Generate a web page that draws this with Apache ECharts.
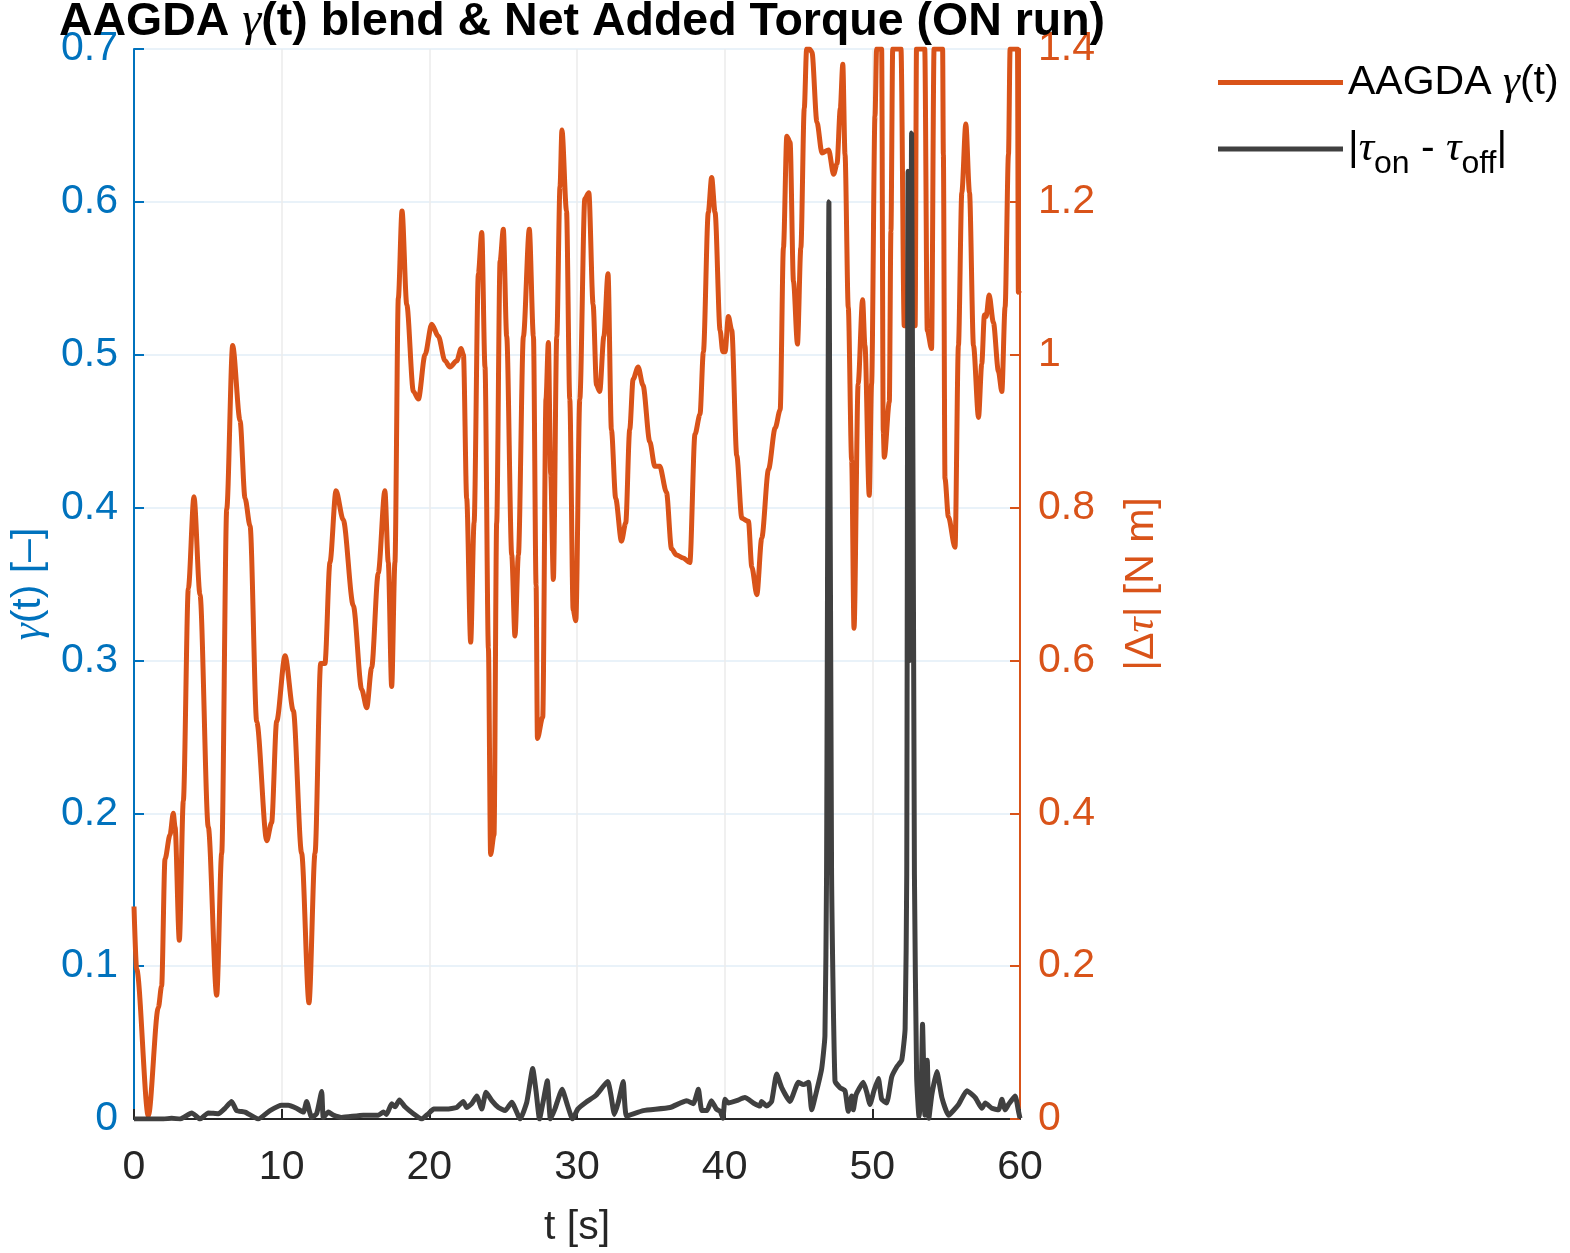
<!DOCTYPE html>
<html>
<head>
<meta charset="utf-8">
<script src="https://cdn.jsdelivr.net/npm/echarts@6/dist/echarts.min.js"></script>
<style>
html,body{margin:0;padding:0;background:#fff;}
#chart{width:1570px;height:1253px;}
</style>
</head>
<body>
<div id="chart"></div>
<script>
// ---- data ----
const xTicks = [0, 10, 20, 30, 40, 50, 60];
const gammaTicks = ['0', '0.1', '0.2', '0.3', '0.4', '0.5', '0.6', '0.7'];
const torqueTicks = ['0', '0.2', '0.4', '0.6', '0.8', '1', '1.2', '1.4'];

// AAGDA gamma(t) [-]
const tGamma = [0, 0.18, 0.97, 1.65, 1.87, 2.1, 2.44, 2.66, 2.78, 3.07, 3.34, 3.68, 4.06, 4.47, 5.03, 5.6, 5.94, 6.28, 6.68, 7.18,
  7.52, 7.86, 8.31, 8.99, 9.32, 9.66, 10.23, 10.79, 11.35, 11.85, 12.26, 12.64, 12.93, 13.27, 13.68, 14.17, 14.85, 15.42, 15.76, 16.09,
  16.54, 16.99, 17.22, 17.45, 17.67, 17.9, 18.15, 18.47, 18.92, 19.26, 19.71, 20.16, 20.61, 21.06, 21.4, 21.86, 22.15, 22.31, 22.53, 22.8,
  23.03, 23.32, 23.55, 23.77, 24.0, 24.15, 24.38, 24.56, 24.79, 25.01, 25.24, 25.58, 25.8, 26.03, 26.37, 26.77, 27.05, 27.23, 27.32, 27.68,
  27.9, 28.06, 28.22, 28.4, 28.63, 28.85, 28.98, 29.29, 29.51, 29.74, 29.92, 30.19, 30.53, 30.8, 31.09, 31.32, 31.54, 31.82, 32.1, 32.33,
  32.62, 33.01, 33.3, 33.57, 33.8, 34.14, 34.47, 34.93, 35.27, 35.6, 36.06, 36.4, 36.74, 37.19, 37.64, 37.99, 38.33, 38.56, 38.89, 39.12,
  39.35, 39.69, 39.87, 40.03, 40.25, 40.48, 40.82, 41.16, 41.61, 41.84, 42.18, 42.51, 42.97, 43.42, 43.76, 43.98, 44.21, 44.43, 44.66, 44.93,
  45.16, 45.39, 45.55, 45.75, 45.91, 46.25, 46.59, 47.04, 47.38, 47.61, 47.83, 48.0, 48.15, 48.37, 48.6, 48.76, 49.04, 49.34, 49.5, 49.79,
  49.95, 50.18, 50.29, 50.63, 50.74, 50.81, 51.15, 51.26, 51.38, 51.94, 52.16, 52.9, 52.99, 53.55, 53.72, 54.01, 54.18, 54.76, 54.81, 54.92,
  55.15, 55.6, 55.83, 56.06, 56.33, 56.58, 56.85, 57.19, 57.41, 57.59, 57.71, 57.91, 58.2, 58.54, 58.77, 58.99, 59.22, 59.33, 59.83, 59.89, 60];
const gamma = [0.139, 0.098, 0.002, 0.073, 0.087, 0.170, 0.186, 0.200, 0.191, 0.117, 0.208, 0.347, 0.407, 0.343, 0.191, 0.081, 0.174, 0.399, 0.506, 0.457,
  0.406, 0.388, 0.260, 0.182, 0.194, 0.260, 0.303, 0.267, 0.174, 0.076, 0.174, 0.298, 0.298, 0.364, 0.411, 0.392, 0.336, 0.281, 0.269, 0.295,
  0.357, 0.411, 0.364, 0.283, 0.364, 0.537, 0.594, 0.533, 0.476, 0.471, 0.500, 0.520, 0.512, 0.496, 0.492, 0.496, 0.504, 0.500, 0.406, 0.312,
  0.390, 0.553, 0.580, 0.492, 0.308, 0.173, 0.186, 0.390, 0.561, 0.582, 0.512, 0.369, 0.316, 0.369, 0.512, 0.582, 0.512, 0.349, 0.249, 0.263,
  0.471, 0.508, 0.422, 0.353, 0.512, 0.610, 0.647, 0.594, 0.471, 0.333, 0.326, 0.471, 0.602, 0.606, 0.533, 0.480, 0.476, 0.512, 0.553, 0.451,
  0.406, 0.378, 0.390, 0.451, 0.484, 0.492, 0.480, 0.443, 0.427, 0.427, 0.410, 0.373, 0.369, 0.367, 0.364, 0.448, 0.461, 0.502, 0.593, 0.616,
  0.593, 0.516, 0.502, 0.502, 0.525, 0.516, 0.434, 0.393, 0.391, 0.361, 0.343, 0.380, 0.425, 0.452, 0.464, 0.570, 0.643, 0.639, 0.548, 0.507,
  0.570, 0.661, 0.700, 0.700, 0.698, 0.652, 0.632, 0.634, 0.618, 0.625, 0.661, 0.690, 0.631, 0.531, 0.431, 0.321, 0.481, 0.536, 0.506, 0.408,
  0.481, 0.656, 0.700, 0.700, 0.450, 0.433, 0.469, 0.581, 0.700, 0.700, 0.519, 0.519, 0.700, 0.700, 0.516, 0.504, 0.700, 0.700, 0.631, 0.419,
  0.394, 0.374, 0.506, 0.606, 0.651, 0.606, 0.506, 0.459, 0.494, 0.526, 0.525, 0.539, 0.521, 0.489, 0.476, 0.531, 0.631, 0.700, 0.700, 0.541, 0.540];

// |tau_on - tau_off| [N m]
const tTorque = [0, 2.0, 2.55, 3.12, 3.91, 4.47, 5.03, 5.71, 6.16, 6.61, 6.95, 7.52, 8.42, 9.21, 10.0, 10.45, 11.0, 11.47, 11.69, 12.03,
  12.37, 12.71, 12.82, 13.16, 13.5, 14.06, 15.53, 16.55, 16.89, 17.1, 17.45, 17.68, 17.97, 18.35, 18.92, 19.49, 19.94, 20.3, 21.17, 21.85,
  22.3, 22.53, 22.87, 23.21, 23.55, 23.84, 24.23, 24.68, 25.13, 25.58, 26.15, 26.6, 27.0, 27.23, 27.46, 27.7, 27.99, 28.2, 28.5, 28.99,
  29.37, 29.7, 30.05, 30.61, 31.29, 32.08, 32.3, 32.53, 32.8, 33.13, 33.36, 34.49, 36.3, 37.43, 37.88, 38.22, 38.45, 38.8, 39.1, 39.44,
  39.7, 39.88, 40.02, 40.25, 40.81, 41.37, 41.94, 42.39, 42.5, 42.84, 43.18, 43.52, 43.86, 44.42, 44.99, 45.33, 45.67, 45.89, 46.23, 46.57,
  46.79, 46.9, 47.06, 47.24, 47.47, 47.81, 48.15, 48.37, 48.6, 48.71, 48.9, 49.39, 49.62, 49.84, 50.11, 50.41, 50.63, 50.97, 51.31, 51.65,
  51.99, 52.22, 52.33, 52.42, 52.52, 52.66, 52.85, 53.0, 53.16, 53.3, 53.4, 53.56, 53.72, 53.83, 54.03, 54.37, 54.71, 55.16, 55.84, 56.4,
  56.97, 57.42, 57.65, 58.1, 58.55, 58.77, 59.0, 59.22, 59.67, 59.9, 60];
const dTorque = [0, 0, 0.001, 0, 0.008, 0, 0.008, 0.007, 0.014, 0.023, 0.011, 0.009, 0, 0.011, 0.018, 0.018, 0.014, 0.009, 0.023, 0.002,
  0.007, 0.036, 0.002, 0.009, 0.005, 0.002, 0.005, 0.005, 0.009, 0.006, 0.020, 0.016, 0.025, 0.016, 0.007, 0, 0.007, 0.013, 0.013, 0.015,
  0.023, 0.015, 0.020, 0.030, 0.013, 0.035, 0.024, 0.015, 0.011, 0.022, 0, 0.022, 0.066, 0.036, 0, 0.022, 0.050, 0, 0.013, 0.039,
  0.017, 0, 0.013, 0.022, 0.031, 0.049, 0.031, 0.006, 0.022, 0.049, 0.004, 0.011, 0.015, 0.024, 0.020, 0.039, 0.011, 0.011, 0.024, 0.013,
  0.010, 0.001, 0.026, 0.021, 0.024, 0.028, 0.021, 0.017, 0.023, 0.017, 0.023, 0.059, 0.041, 0.023, 0.048, 0.045, 0.048, 0.012, 0.037, 0.066,
  0.109, 0.32, 1.20, 0.32, 0.050, 0.041, 0.037, 0.010, 0.030, 0.012, 0.032, 0.048, 0.035, 0.019, 0.037, 0.053, 0.026, 0.021, 0.055, 0.068,
  0.077, 0.118, 0.32, 1.24, 0.60, 1.29, 0.32, 0.055, 0.003, 0.030, 0.124, 0.005, 0.077, 0.001, 0.032, 0.062, 0.028, 0.005, 0.019, 0.037,
  0.028, 0.014, 0.021, 0.014, 0.012, 0.026, 0.012, 0.019, 0.030, 0.010, 0.001];

const seriesNames = ['AAGDA γ(t)', '|τon - τoff|'];

// ---- chart ----
const BLUE = '#0072BD', ORANGE = '#D95319', DARK = '#404040', AX = '#262626';
const SANS = '"Liberation Sans", Arial, Helvetica, sans-serif';
const SERIF = '"Liberation Serif", "DejaVu Serif", serif';

const chart = echarts.init(document.getElementById('chart'), null, {renderer: 'canvas'});

const option = {
  backgroundColor: '#ffffff',
  animation: false,
  title: {
    text: 'AAGDA {g|γ}(t) blend & Net Added Torque (ON run)',
    left: 577,
    top: -7,
    textAlign: 'center',
    textStyle: {
      fontFamily: SANS, fontSize: 46.5, fontWeight: 'bold', color: '#000',
      rich: { g: { fontFamily: SERIF, fontStyle: 'italic', fontWeight: 'normal', fontSize: 48, color: '#000' } }
    }
  },
  legend: {
    orient: 'vertical',
    left: 1213,
    top: 56,
    icon: 'rect',
    itemWidth: 125,
    itemHeight: 5,
    itemGap: 14,
    data: seriesNames,
    formatter: function (name) {
      if (name === seriesNames[0]) return '{n|AAGDA }{i|γ}{n|(t)}';
      return '{n||}{i|τ}{s|on}{n| - }{i|τ}{s|off}{n||}';
    },
    textStyle: {
      color: '#000', fontFamily: SANS, fontSize: 41, padding: [0, 0, 0, 0],
      rich: {
        n: { fontFamily: SANS, fontSize: 41, color: '#000', lineHeight: 42 },
        i: { fontFamily: SERIF, fontStyle: 'italic', fontSize: 43, color: '#000', lineHeight: 42 },
        s: { fontFamily: SANS, fontSize: 32, color: '#000', padding: [30, 0, 0, 0], lineHeight: 32 }
      }
    }
  },
  grid: {
    left: 134, top: 49, width: 886, height: 1070,
    containLabel: false,
    outerBoundsMode: 'none'
  },
  xAxis: {
    type: 'value', min: 0, max: 60, interval: 10,
    name: 't [s]', nameLocation: 'middle', nameGap: 88,
    nameTextStyle: { fontFamily: SANS, fontSize: 41, color: AX },
    axisLine: { show: true, onZero: false, lineStyle: { color: AX, width: 2 } },
    axisTick: { show: true, inside: true, length: 10, lineStyle: { color: AX, width: 2 } },
    axisLabel: { fontFamily: SANS, fontSize: 41, color: AX, margin: 28,
      formatter: function (v) { return xTicks.indexOf(v) >= 0 ? String(v) : ''; } },
    splitLine: { show: true, lineStyle: { color: '#ebebeb', width: 1.5 } }
  },
  yAxis: [
    {
      type: 'value', position: 'left', min: 0, max: 0.7, interval: 0.1,
      name: '{g|γ}(t) [–]', nameLocation: 'middle', nameGap: 80, nameRotate: 90,
      nameTextStyle: { fontFamily: SANS, fontSize: 41, color: BLUE,
        rich: { g: { fontFamily: SERIF, fontStyle: 'italic', fontSize: 43, color: BLUE } } },
      axisLine: { show: true, onZero: false, lineStyle: { color: BLUE, width: 2 } },
      axisTick: { show: true, inside: true, length: 10, lineStyle: { color: BLUE, width: 2 } },
      axisLabel: { fontFamily: SANS, fontSize: 41, color: BLUE, margin: 16,
        formatter: function (v) { return gammaTicks[Math.round(v * 10)]; } },
      splitLine: { show: true, lineStyle: { color: '#e2eef7', width: 1.5 } }
    },
    {
      type: 'value', position: 'right', min: 0, max: 1.4, interval: 0.2,
      name: '|Δ{g|τ}| [N m]', nameLocation: 'middle', nameGap: 100, nameRotate: 90,
      nameTextStyle: { fontFamily: SANS, fontSize: 41, color: ORANGE,
        rich: { g: { fontFamily: SERIF, fontStyle: 'italic', fontSize: 43, color: ORANGE } } },
      axisLine: { show: true, onZero: false, lineStyle: { color: ORANGE, width: 2 } },
      axisTick: { show: true, inside: true, length: 10, lineStyle: { color: ORANGE, width: 2 } },
      axisLabel: { fontFamily: SANS, fontSize: 41, color: ORANGE, margin: 18,
        formatter: function (v) { return torqueTicks[Math.round(v * 5)]; } },
      splitLine: { show: false }
    }
  ],
  series: [
    {
      name: seriesNames[0], type: 'line', yAxisIndex: 0,
      data: tGamma.map(function (t, i) { return [t, gamma[i]]; }),
      showSymbol: false, symbol: 'none', smooth: 0.3, smoothMonotone: 'x', clip: true,
      lineStyle: { color: ORANGE, width: 5 }, itemStyle: { color: ORANGE }
    },
    {
      name: seriesNames[1], type: 'line', yAxisIndex: 1,
      data: tTorque.map(function (t, i) { return [t, dTorque[i]]; }),
      showSymbol: false, symbol: 'none', smooth: 0.15, clip: true,
      lineStyle: { color: DARK, width: 5 }, itemStyle: { color: DARK }
    }
  ]
};
chart.setOption(option);
</script>
</body>
</html>
